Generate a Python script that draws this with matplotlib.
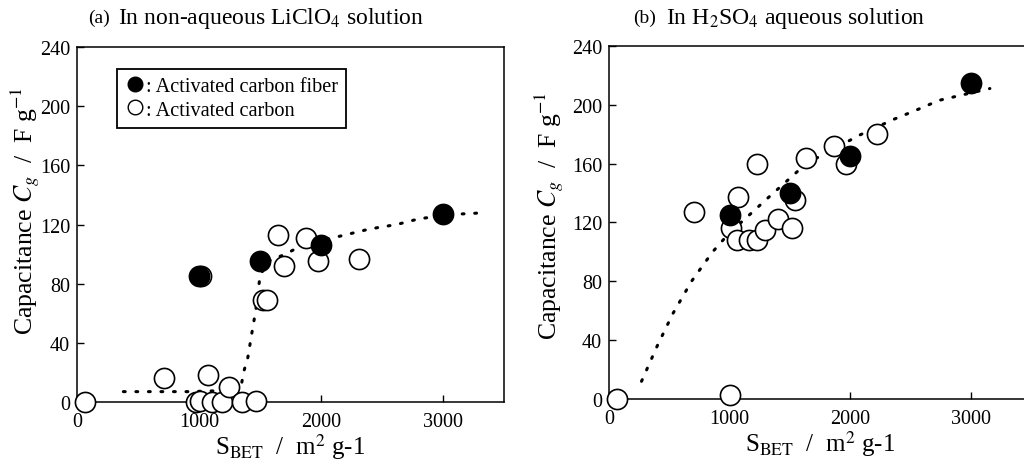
import numpy as np
import matplotlib.pyplot as plt
from matplotlib.lines import Line2D

plt.rcParams['font.family'] = ['Liberation Serif', 'DejaVu Serif']
plt.rcParams['mathtext.fontset'] = 'stix'

# (a) non-aqueous LiClO4
acf_a_x = [1000, 1500, 2000, 3000]
acf_a_y = [85, 95, 106, 127]
ac_a_x = [65, 709, 975, 1010, 1020, 1076, 1110, 1188, 1242, 1356, 1465,
          1527, 1560, 1644, 1698, 1878, 1976, 2313]
ac_a_y = [0, 16, 0, 1, 85, 18, 0, 0, 10, 0, 1,
          69, 69, 113, 92, 111, 95, 97]
fit_a_x = [380, 900, 1340, 1365, 1400, 1430, 1465, 1500, 1560, 1710, 1800,
           2000, 2200, 2400, 2620, 2810, 3120, 3350]
fit_a_y = [7, 7, 8, 20, 30, 45, 62, 85, 95, 100, 104,
           109, 113, 117, 120, 124, 127, 128]

# (b) H2SO4 aqueous
acf_b_x = [1000, 1500, 2000, 3000]
acf_b_y = [125, 140, 165, 215]
ac_b_x = [65, 705, 1003, 1012, 1071, 1058, 1165, 1224, 1224, 1292, 1403,
          1520, 1541, 1638, 1870, 1964, 2220]
ac_b_y = [0, 127, 3, 116, 137, 108, 108, 108, 160, 115, 122,
          116, 135, 164, 172, 160, 180]
fit_b_x = [270, 400, 530, 685, 860, 1000, 1150, 1310, 1460, 1650, 1780,
           2070, 2360, 2540, 2740, 2950, 3160]
fit_b_y = [12, 36, 58, 80, 100, 113, 124, 136, 147, 161, 166,
           179, 190, 196, 203, 207, 211]

xticks = [0, 1000, 2000, 3000]
yticks = [0, 40, 80, 120, 160, 200, 240]

fig = plt.figure(figsize=(10.24, 4.64), dpi=100)
ax1 = fig.add_axes([0.0752, 0.1315, 0.417, 0.765])
ax2 = fig.add_axes([0.5947, 0.138, 0.412, 0.761])


def draw(ax, ac_x, ac_y, acf_x, acf_y, fx, fy, ylx, yly):
	ax.plot(fx, fy, color='black', lw=2.2, linestyle=(0, (0.6, 3.5)),
		dash_capstyle='round', zorder=2)
	ax.plot(ac_x, ac_y, 'o', ms=14.5, mfc='white', mec='black', mew=1.2,
		linestyle='none', clip_on=False, zorder=3)
	ax.plot(acf_x, acf_y, 'o', ms=14.5, mfc='black', mec='black', mew=1.2,
		linestyle='none', clip_on=False, zorder=4)
	ax.set_xlim(0, 3500)
	ax.set_ylim(0, 240)
	ax.set_xticks(xticks)
	ax.set_yticks(yticks)
	ax.tick_params(direction='in', length=5, width=1, labelsize=14.5)
	ax.tick_params(axis='x', pad=7)
	ax.tick_params(axis='y', pad=5)
	for s in ax.spines.values():
		s.set_linewidth(1.1)
	ax.set_xlabel(r'S$_{\mathrm{BET}}$  /  m$^2$ g-1', fontsize=18, labelpad=0)
	ax.set_ylabel(r'Capacitance $C_g$  /  F g$^{-1}$', fontsize=18.5)
	ax.yaxis.set_label_coords(ylx, yly)


draw(ax1, ac_a_x, ac_a_y, acf_a_x, acf_a_y, fit_a_x, fit_a_y, -0.083, 0.54)
draw(ax2, ac_b_x, ac_b_y, acf_b_x, acf_b_y, fit_b_x, fit_b_y, -0.102, 0.52)

handles = [Line2D([], [], marker='o', ms=14, mfc='black', mec='black', ls='none'),
	Line2D([], [], marker='o', ms=14, mfc='white', mec='black', ls='none')]
leg = ax1.legend(handles, [': Activated carbon fiber', ': Activated carbon'],
	loc='upper left', bbox_to_anchor=(0.094, 0.938), fontsize=14.6,
	markerscale=0.75, handletextpad=0.0, handlelength=1.0, borderaxespad=0,
	borderpad=0.4, labelspacing=0.2, fancybox=False, framealpha=1)
leg.get_frame().set_edgecolor('black')
leg.get_frame().set_linewidth(1.3)

fig.text(0.086, 0.961, '(a)', fontsize=14, va='center')
fig.text(0.115, 0.961, r'In non-aqueous LiClO$_4$ solution', fontsize=17, va='center')
fig.text(0.618, 0.961, '(b)', fontsize=14, va='center')
fig.text(0.650, 0.961, r'In H$_2$SO$_4$ aqueous solution', fontsize=17, va='center')

plt.savefig('out.png', dpi=100)
